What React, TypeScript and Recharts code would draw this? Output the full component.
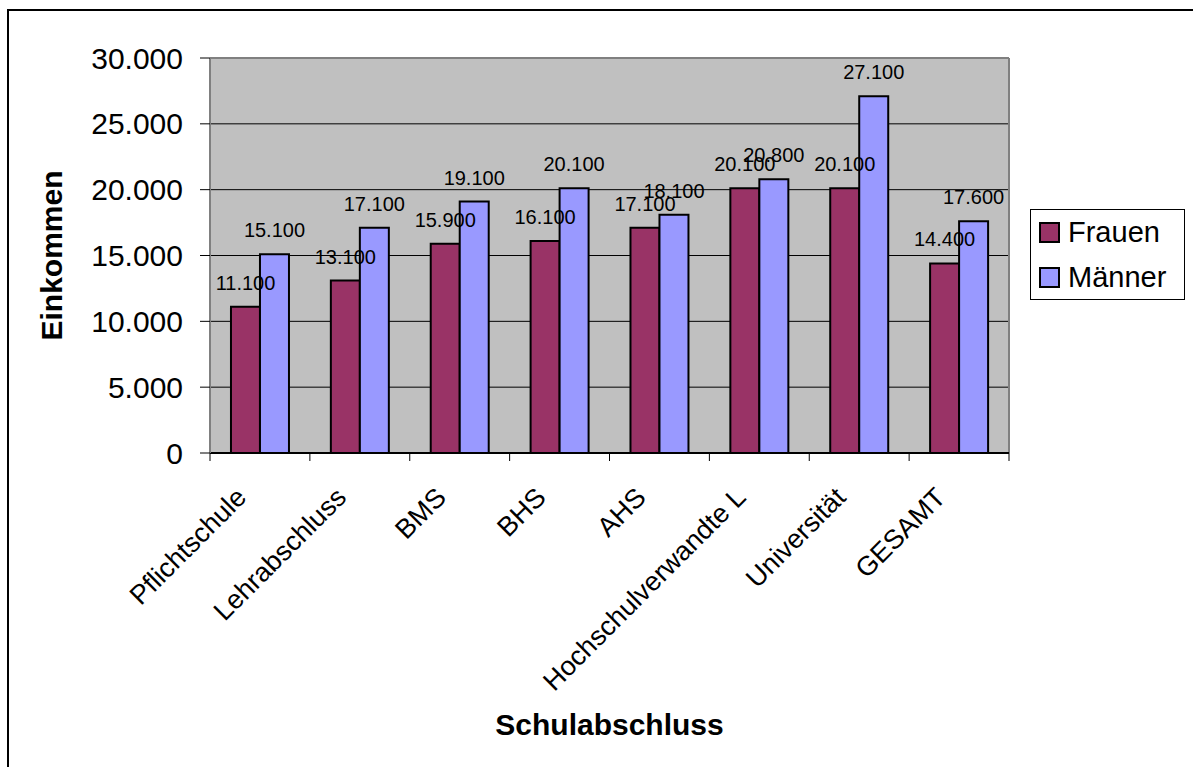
import { BarChart, Bar, XAxis, YAxis, CartesianGrid, Legend, LabelList, Label } from "recharts";

const categories = [
  "Pflichtschule",
  "Lehrabschluss",
  "BMS",
  "BHS",
  "AHS",
  "Hochschulverwandte L",
  "Universität",
  "GESAMT",
];
const frauen = [11100, 13100, 15900, 16100, 17100, 20100, 20100, 14400];
const maenner = [15100, 17100, 19100, 20100, 18100, 20800, 27100, 17600];
const yTicks = [0, 5000, 10000, 15000, 20000, 25000, 30000];

const series = [
  { key: "frauen", name: "Frauen", color: "#993366" },
  { key: "maenner", name: "Männer", color: "#9999FF" },
];

const data = categories.map((name, i) => ({ name, frauen: frauen[i], maenner: maenner[i] }));

const W = 1193;
const H = 767;
const MARGIN = { top: 58, right: 184, bottom: 14, left: 10 };
const Y_AXIS_W = 200;
const PLOT_W = W - MARGIN.left - Y_AXIS_W - MARGIN.right;
const BAND = PLOT_W / categories.length;
const FONT = '"Liberation Sans", Arial, sans-serif';

const fmt = (v: any) => String(v).replace(/\B(?=(\d{3})+(?!\d))/g, ".");

function XTick(props: any) {
  const { x, y, payload, index } = props;
  const tx = x - 12;
  const ty = y + 46;
  return (
    <g>
      <line x1={x - BAND / 2} y1={y} x2={x - BAND / 2} y2={y + 8} stroke="#000" />
      {index === categories.length - 1 && (
        <line x1={x + BAND / 2} y1={y} x2={x + BAND / 2} y2={y + 8} stroke="#000" />
      )}
      <text
        x={tx}
        y={ty}
        transform={`rotate(-45 ${tx} ${ty})`}
        textAnchor="end"
        fontSize={27}
        fill="#000"
        fontFamily={FONT}
      >
        {payload.value}
      </text>
    </g>
  );
}

function LegendBox() {
  return (
    <div
      style={{
        width: 153,
        height: 89,
        border: "1px solid #000",
        background: "#fff",
        fontFamily: FONT,
        fontSize: 29,
        boxSizing: "content-box",
      }}
    >
      {series.map((s, i) => (
        <div
          key={s.key}
          style={{
            position: "absolute",
            left: 9,
            top: 13 + i * 45,
            display: "flex",
            alignItems: "center",
            height: 21,
          }}
        >
          <span
            style={{
              display: "inline-block",
              width: 17,
              height: 17,
              background: s.color,
              border: "2px solid #000",
              marginRight: 8,
            }}
          />
          <span style={{ lineHeight: "21px" }}>{s.name}</span>
        </div>
      ))}
    </div>
  );
}

export default function App() {
  return (
    <div style={{ position: "absolute", left: 0, top: 0, width: W, height: H, background: "#fff", overflow: "hidden" }}>
      <div
        style={{
          position: "absolute",
          left: 7,
          top: 9,
          width: W + 20,
          height: H + 20,
          borderLeft: "2px solid #000",
          borderTop: "2px solid #000",
        }}
      />
      <BarChart
        width={W}
        height={H}
        data={data}
        margin={MARGIN}
        barCategoryGap="21%"
        barGap={0}
        style={{ position: "absolute", left: 0, top: 0 }}
      >
        <CartesianGrid fill="#C0C0C0" stroke="#000" vertical={false} />
        <CartesianGrid
          fill="none"
          stroke="#808080"
          strokeWidth={2}
          verticalCoordinatesGenerator={({ offset }: any) => [offset.left, offset.left + offset.width]}
          horizontalCoordinatesGenerator={({ offset }: any) => [offset.top]}
        />
        <XAxis
          dataKey="name"
          interval={0}
          tickSize={0}
          tickMargin={0}
          height={300}
          tickLine={false}
          axisLine={{ stroke: "#000", strokeWidth: 2 }}
          tick={<XTick />}
        >
          <Label
            content={(p: any) => {
              const vb = p.viewBox || {};
              return (
                <text
                  x={vb.x + vb.width / 2}
                  y={vb.y + 282}
                  textAnchor="middle"
                  fontSize={30}
                  fontWeight="bold"
                  fontFamily={FONT}
                  fill="#000"
                >
                  Schulabschluss
                </text>
              );
            }}
          />
        </XAxis>
        <YAxis
          width={Y_AXIS_W}
          domain={[0, 30000]}
          ticks={yTicks}
          interval={0}
          tickFormatter={fmt}
          tickSize={10}
          tickMargin={17}
          tickLine={{ stroke: "#000" }}
          axisLine={{ stroke: "#808080", strokeWidth: 2 }}
          tick={{ fontSize: 30, fill: "#000", fontFamily: FONT }}
        >
          <Label
            content={(p: any) => {
              const vb = p.viewBox || {};
              const lx = vb.x + 52;
              const ly = vb.y + vb.height / 2;
              return (
                <text
                  x={lx}
                  y={ly}
                  transform={`rotate(-90 ${lx} ${ly})`}
                  textAnchor="middle"
                  fontSize={30}
                  fontWeight="bold"
                  fontFamily={FONT}
                  fill="#000"
                >
                  Einkommen
                </text>
              );
            }}
          />
        </YAxis>
        <Legend
          layout="vertical"
          align="center"
          verticalAlign="middle"
          content={() => <LegendBox />}
          wrapperStyle={{ left: 1030, top: 209, width: 155, height: 91 }}
        />
        {series.map((s) => (
          <Bar
            key={s.key}
            dataKey={s.key}
            name={s.name}
            fill={s.color}
            stroke="#000"
            strokeWidth={2}
            isAnimationActive={false}
          >
            <LabelList
              dataKey={s.key}
              position="top"
              offset={17}
              formatter={fmt}
              style={{ fontSize: 20, fill: "#000", fontFamily: FONT }}
            />
          </Bar>
        ))}
      </BarChart>
    </div>
  );
}
